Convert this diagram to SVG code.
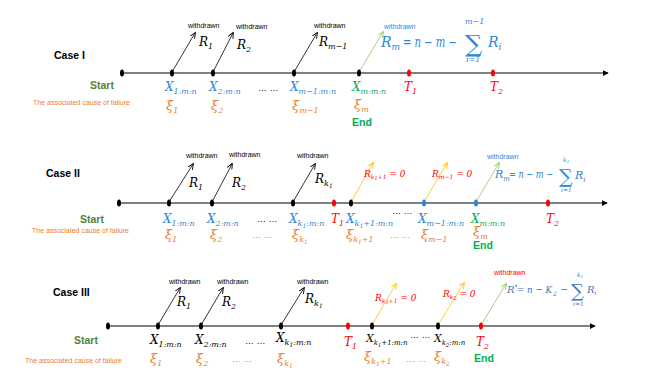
<svg xmlns="http://www.w3.org/2000/svg" width="646" height="389" viewBox="0 0 646 389">
<style>
.bg{fill:#fff}
.case{font-family:"Liberation Sans",Arial,sans-serif;font-weight:bold;font-size:10.5px;fill:#000}
.start{font-family:"Liberation Sans",Arial,sans-serif;font-weight:bold;font-size:10.5px;fill:#548235}
.end{font-family:"Liberation Sans",Arial,sans-serif;font-weight:bold;font-size:10.5px;fill:#00b050}
.cause{font-family:"Liberation Sans",Arial,sans-serif;font-size:7px;fill:#ed7d31}
.wd{font-family:"Liberation Sans",Arial,sans-serif;font-size:7px;fill:#000}
.m{font-family:"DejaVu Serif",serif;font-style:italic;font-size:12px}
.mu{font-family:"DejaVu Serif",serif;font-size:12px}
.s{font-size:8px}
.ss{font-size:6px}
.blue{fill:#2e86d6}
.orange{fill:#ed7d31}
.green{fill:#00b050}
.red{fill:#ff0000}
.black{fill:#000}
.dots{font-family:"Liberation Sans",Arial,sans-serif;font-size:9px}
.tl{stroke:#555;stroke-width:1.5;fill:none}
.wa{stroke:#000;stroke-width:0.8;fill:none}
.ya{stroke:#ffc000;stroke-width:0.8;fill:none}
.ga{stroke:#92c760;stroke-width:0.8;fill:none}
</style>
<defs>
<marker id="ah" viewBox="0 0 8 8" refX="7" refY="4" markerWidth="6" markerHeight="6" markerUnits="userSpaceOnUse" orient="auto"><path d="M0,0 L8,4 L0,8 Z" fill="#000"/></marker>
<marker id="aw" viewBox="0 0 8 8" refX="7" refY="4" markerWidth="6" markerHeight="6" markerUnits="userSpaceOnUse" orient="auto"><path d="M0,0.5 L8,4 L0,7.5" fill="none" stroke="#000" stroke-width="1.2"/></marker>
<marker id="ay" viewBox="0 0 8 8" refX="7" refY="4" markerWidth="6" markerHeight="6" markerUnits="userSpaceOnUse" orient="auto"><path d="M0,0.5 L8,4 L0,7.5" fill="none" stroke="#ffc000" stroke-width="1.2"/></marker>
<marker id="ag" viewBox="0 0 8 8" refX="7" refY="4" markerWidth="6" markerHeight="6" markerUnits="userSpaceOnUse" orient="auto"><path d="M0,0.5 L8,4 L0,7.5" fill="none" stroke="#92c760" stroke-width="1.2"/></marker>
</defs>
<rect class="bg" width="646" height="389"/>

<g id="connectors">
<line class="tl" x1="121" y1="73" x2="608" y2="73" marker-end="url(#ah)"/>
<line class="tl" x1="118" y1="203" x2="607" y2="203" marker-end="url(#ah)"/>
<line class="tl" x1="107" y1="326" x2="595" y2="326" marker-end="url(#ah)"/>
<line class="wa" x1="172" y1="72" x2="195" y2="33" marker-end="url(#aw)"/>
<line class="wa" x1="213" y1="72" x2="233" y2="33" marker-end="url(#aw)"/>
<line class="wa" x1="294" y1="72" x2="317" y2="33" marker-end="url(#aw)"/>
<line class="ga" x1="359" y1="72" x2="383" y2="32" marker-end="url(#ag)"/>
<line class="wa" x1="169" y1="202" x2="193" y2="164" marker-end="url(#aw)"/>
<line class="wa" x1="212" y1="202" x2="232" y2="164" marker-end="url(#aw)"/>
<line class="wa" x1="293" y1="202" x2="315" y2="164" marker-end="url(#aw)"/>
<line class="ya" x1="351" y1="202" x2="373" y2="163" marker-end="url(#ay)"/>
<line class="ya" x1="424" y1="202" x2="447" y2="163" marker-end="url(#ay)"/>
<line class="ga" x1="476" y1="202" x2="499" y2="163" marker-end="url(#ag)"/>
<line class="wa" x1="158" y1="325" x2="180" y2="288" marker-end="url(#aw)"/>
<line class="wa" x1="201" y1="325" x2="223" y2="288" marker-end="url(#aw)"/>
<line class="wa" x1="281" y1="325" x2="304" y2="288" marker-end="url(#aw)"/>
<line class="ya" x1="372" y1="325" x2="396" y2="284" marker-end="url(#ay)"/>
<line class="ya" x1="438" y1="325" x2="464" y2="283" marker-end="url(#ay)"/>
<line class="ga" x1="481" y1="325" x2="506" y2="284" marker-end="url(#ag)"/>
</g>

<g id="case1">
<text class="case" x="54" y="59">Case I</text>
<ellipse cx="122" cy="73" rx="2" ry="3.5" fill="#000"/>
<ellipse cx="172" cy="73" rx="2" ry="3.5" fill="#000"/>
<ellipse cx="213" cy="73" rx="2" ry="3.5" fill="#000"/>
<ellipse cx="294" cy="73" rx="2" ry="3.5" fill="#000"/>
<ellipse cx="359" cy="73" rx="2" ry="3.5" fill="#000"/>
<ellipse cx="409" cy="73" rx="2" ry="3.5" fill="#ff0000"/>
<ellipse cx="493" cy="73" rx="2" ry="3.5" fill="#ff0000"/>
<text class="start" x="90" y="89">Start</text>
<text class="cause" x="33" y="105">The associated cause of failure</text>
<text class="wd" x="188" y="28">withdrawn</text>
<text class="wd" x="236" y="29">withdrawn</text>
<text class="wd" x="314" y="28">withdrawn</text>
<text class="wd" x="384" y="29" style="fill:#2e86d6">withdrawn</text>
<text class="m black" x="199" y="46">R<tspan class="s" dy="3">1</tspan></text>
<text class="m black" x="237" y="49">R<tspan class="s" dy="3">2</tspan></text>
<text class="m black" x="319" y="46">R<tspan class="s" dy="3">m−1</tspan></text>
<text class="m blue" x="165" y="91">X<tspan class="s" dy="3">1:m:n</tspan></text>
<text class="m blue" x="209" y="91">X<tspan class="s" dy="3">2:m:n</tspan></text>
<text class="dots" x="258" y="91">… …</text>
<text class="m blue" x="290" y="91">X<tspan class="s" dy="3">m−1:m:n</tspan></text>
<text class="m green" x="352" y="91">X<tspan class="s" dy="3">m:m:n</tspan></text>
<text class="m red" x="404" y="91">T<tspan class="s" dy="3">1</tspan></text>
<text class="m red" x="490" y="91">T<tspan class="s" dy="3">2</tspan></text>
<text class="m orange" x="166" y="110" style="font-size:13px">ξ<tspan class="s" dy="3">1</tspan></text>
<text class="m orange" x="211" y="110" style="font-size:13px">ξ<tspan class="s" dy="3">2</tspan></text>
<text class="m orange" x="292" y="110" style="font-size:13px">ξ<tspan class="s" dy="3">m−1</tspan></text>
<text class="m orange" x="354" y="109" style="font-size:13px">ξ<tspan class="s" dy="3">m</tspan></text>
<text class="end" x="352" y="126">End</text>
<g class="blue">
<text class="m" x="381" y="47" style="font-size:14px">R<tspan style="font-size:9px" dy="3">m</tspan></text>
<text class="m" x="403" y="47" style="font-size:14px" textLength="54" lengthAdjust="spacingAndGlyphs">= n − m −</text>
<text class="mu" x="465" y="52" style="font-size:24px">∑</text>
<text class="m" x="465" y="24" style="font-size:8px">m−1</text>
<text class="m" x="466" y="62" style="font-size:8px">i=1</text>
<text class="m" x="488" y="47" style="font-size:14px">R<tspan style="font-size:9px" dy="3">i</tspan></text>
</g>
</g>

<g id="case2">
<text class="case" x="46" y="177">Case II</text>
<ellipse cx="119" cy="203" rx="2" ry="3.5" fill="#000"/>
<ellipse cx="169" cy="203" rx="2" ry="3.5" fill="#000"/>
<ellipse cx="212" cy="203" rx="2" ry="3.5" fill="#000"/>
<ellipse cx="293" cy="203" rx="2" ry="3.5" fill="#000"/>
<ellipse cx="334" cy="203" rx="2" ry="3.5" fill="#ff0000"/>
<ellipse cx="351" cy="203" rx="2" ry="3.5" fill="#000"/>
<ellipse cx="424" cy="203" rx="2" ry="3.5" fill="#2e86d6"/>
<ellipse cx="476" cy="203" rx="2" ry="3.5" fill="#2e86d6"/>
<ellipse cx="548" cy="203" rx="2" ry="3.5" fill="#ff0000"/>
<text class="start" x="80" y="223">Start</text>
<text class="cause" x="32" y="233">The associated cause of failure</text>
<text class="wd" x="186" y="158">withdrawn</text>
<text class="wd" x="229" y="157">withdrawn</text>
<text class="wd" x="297" y="158">withdrawn</text>
<text class="wd" x="487" y="159" style="fill:#2e86d6">withdrawn</text>
<text class="m black" x="189" y="187">R<tspan class="s" dy="3">1</tspan></text>
<text class="m black" x="232" y="187">R<tspan class="s" dy="3">2</tspan></text>
<text class="m black" x="315" y="183">R<tspan class="s" dy="3">k</tspan><tspan class="ss" dy="2">1</tspan></text>
<text class="m red" x="364" y="177" style="font-size:9px">R<tspan class="ss" dy="2">k</tspan><tspan style="font-size:5px" dy="1">1</tspan><tspan class="ss" dy="-1">+1</tspan><tspan dy="-2"> = 0</tspan></text>
<text class="m red" x="432" y="177" style="font-size:9px">R<tspan class="ss" dy="2">m−1</tspan><tspan dy="-2"> = 0</tspan></text>
<text class="m blue" x="163" y="223">X<tspan class="s" dy="3">1:m:n</tspan></text>
<text class="m blue" x="207" y="223">X<tspan class="s" dy="3">2:m:n</tspan></text>
<text class="dots" x="257" y="222">… …</text>
<text class="m blue" x="289" y="223">X<tspan class="s" dy="3">k</tspan><tspan class="ss" dy="2">1</tspan><tspan class="s" dy="-2">:m:n</tspan></text>
<text class="m red" x="331" y="223">T<tspan class="s" dy="3">1</tspan></text>
<text class="m blue" x="346" y="223">X<tspan class="s" dy="3">k</tspan><tspan class="ss" dy="2">1</tspan><tspan class="s" dy="-2">+1:m:n</tspan></text>
<text class="dots" x="392" y="214">… …</text>
<text class="m blue" x="418" y="223">X<tspan class="s" dy="3">m−1:m:n</tspan></text>
<text class="m green" x="471" y="223">X<tspan class="s" dy="3">m:m:n</tspan></text>
<text class="m red" x="546" y="223">T<tspan class="s" dy="3">2</tspan></text>
<text class="m orange" x="165" y="239" style="font-size:13px">ξ<tspan class="s" dy="3">1</tspan></text>
<text class="m orange" x="210" y="239" style="font-size:13px">ξ<tspan class="s" dy="3">2</tspan></text>
<text class="dots orange" x="252" y="238">… …</text>
<text class="m orange" x="292" y="239" style="font-size:13px">ξ<tspan class="s" dy="3">k</tspan><tspan class="ss" dy="2">1</tspan></text>
<text class="m orange" x="346" y="239" style="font-size:13px">ξ<tspan class="s" dy="3">k</tspan><tspan class="ss" dy="2">1</tspan><tspan class="s" dy="-2">+1</tspan></text>
<text class="dots orange" x="390" y="238">… …</text>
<text class="m orange" x="421" y="239" style="font-size:13px">ξ<tspan class="s" dy="3">m−1</tspan></text>
<text class="m orange" x="473" y="236" style="font-size:13px">ξ<tspan class="s" dy="3">m</tspan></text>
<text class="end" x="473" y="249">End</text>
<g class="blue">
<text class="m" x="495" y="178" style="font-size:11px">R<tspan style="font-size:7px" dy="3">m</tspan></text>
<text class="m" x="509" y="178" style="font-size:11px" textLength="44" lengthAdjust="spacingAndGlyphs">= n − m −</text>
<text class="mu" x="559" y="183" style="font-size:19px">∑</text>
<text class="m" x="563" y="162" style="font-size:6px">k<tspan style="font-size:4px" dy="1">1</tspan></text>
<text class="m" x="561" y="192" style="font-size:6px">i=1</text>
<text class="m" x="575" y="179" style="font-size:11px">R<tspan style="font-size:7px" dy="3">i</tspan></text>
</g>
</g>

<g id="case3">
<text class="case" x="53" y="296">Case III</text>
<ellipse cx="108" cy="326" rx="2" ry="3.5" fill="#000"/>
<ellipse cx="158" cy="326" rx="2" ry="3.5" fill="#000"/>
<ellipse cx="201" cy="326" rx="2" ry="3.5" fill="#000"/>
<ellipse cx="281" cy="326" rx="2" ry="3.5" fill="#000"/>
<ellipse cx="348" cy="326" rx="2" ry="3.5" fill="#ff0000"/>
<ellipse cx="372" cy="326" rx="2" ry="3.5" fill="#000"/>
<ellipse cx="438" cy="326" rx="2" ry="3.5" fill="#000"/>
<ellipse cx="481" cy="326" rx="2" ry="3.5" fill="#ff0000"/>
<text class="start" x="74" y="344">Start</text>
<text class="cause" x="25" y="363">The associated cause of failure</text>
<text class="wd" x="169" y="284">withdrawn</text>
<text class="wd" x="217" y="284">withdrawn</text>
<text class="wd" x="297" y="284">withdrawn</text>
<text class="wd" x="494" y="275" style="fill:#ff0000">withdrawn</text>
<text class="m black" x="177" y="306">R<tspan class="s" dy="3">1</tspan></text>
<text class="m black" x="222" y="306">R<tspan class="s" dy="3">2</tspan></text>
<text class="m black" x="305" y="303">R<tspan class="s" dy="3">k</tspan><tspan class="ss" dy="2">1</tspan></text>
<text class="m red" x="375" y="301" style="font-size:9px">R<tspan class="ss" dy="2">k</tspan><tspan style="font-size:5px" dy="1">1</tspan><tspan class="ss" dy="-1">+1</tspan><tspan dy="-2"> = 0</tspan></text>
<text class="m red" x="443" y="297" style="font-size:9px">R<tspan class="ss" dy="2">k</tspan><tspan style="font-size:5px" dy="1">2</tspan><tspan dy="-3"> = 0</tspan></text>
<text class="m black" x="150" y="344">X<tspan class="s" dy="3">1:m:n</tspan></text>
<text class="m black" x="195" y="344">X<tspan class="s" dy="3">2:m:n</tspan></text>
<text class="dots" x="245" y="344">… …</text>
<text class="m black" x="276" y="342">X<tspan class="s" dy="3">k</tspan><tspan class="ss" dy="2">1</tspan><tspan class="s" dy="-2">:m:n</tspan></text>
<text class="m red" x="344" y="346">T<tspan class="s" dy="3">1</tspan></text>
<text class="m black" x="366" y="342" style="font-size:11px">X<tspan style="font-size:7px" dy="3">k</tspan><tspan style="font-size:5px" dy="2">1</tspan><tspan style="font-size:7px" dy="-2">+1:m:n</tspan></text>
<text class="dots" x="410" y="338">… …</text>
<text class="m black" x="434" y="342" style="font-size:11px">X<tspan style="font-size:7px" dy="3">k</tspan><tspan style="font-size:5px" dy="2">2</tspan><tspan style="font-size:7px" dy="-2">:m:n</tspan></text>
<text class="m red" x="476" y="346">T<tspan class="s" dy="3">2</tspan></text>
<text class="m orange" x="150" y="363" style="font-size:13px">ξ<tspan class="s" dy="3">1</tspan></text>
<text class="m orange" x="196" y="363" style="font-size:13px">ξ<tspan class="s" dy="3">2</tspan></text>
<text class="dots orange" x="232" y="362">… …</text>
<text class="m orange" x="277" y="363" style="font-size:13px">ξ<tspan class="s" dy="3">k</tspan><tspan class="ss" dy="2">1</tspan></text>
<text class="m orange" x="364" y="361" style="font-size:13px">ξ<tspan class="s" dy="3">k</tspan><tspan class="ss" dy="2">1</tspan><tspan class="s" dy="-2">+1</tspan></text>
<text class="dots orange" x="406" y="362">… …</text>
<text class="m orange" x="434" y="361" style="font-size:13px">ξ<tspan class="s" dy="3">k</tspan><tspan class="ss" dy="2">2</tspan></text>
<text class="end" x="474" y="362">End</text>
<g style="fill:#4472c4">
<text class="m" x="507" y="293" style="font-size:10px">R<tspan style="font-size:6px" dy="-4">*</tspan></text>
<text class="m" x="517" y="293" style="font-size:10px" textLength="35" lengthAdjust="spacingAndGlyphs">= n − K</text>
<text class="m" x="553" y="296" style="font-size:6px">2</text>
<text class="m" x="560" y="293" style="font-size:10px">−</text>
<text class="mu" x="571" y="297" style="font-size:18px">∑</text>
<text class="m" x="577" y="277" style="font-size:6px">k<tspan style="font-size:4px" dy="1">1</tspan></text>
<text class="m" x="573" y="306" style="font-size:6px">i=1</text>
<text class="m" x="587" y="293" style="font-size:10px">R<tspan style="font-size:6px" dy="2">i</tspan></text>
</g>
</g>
</svg>
